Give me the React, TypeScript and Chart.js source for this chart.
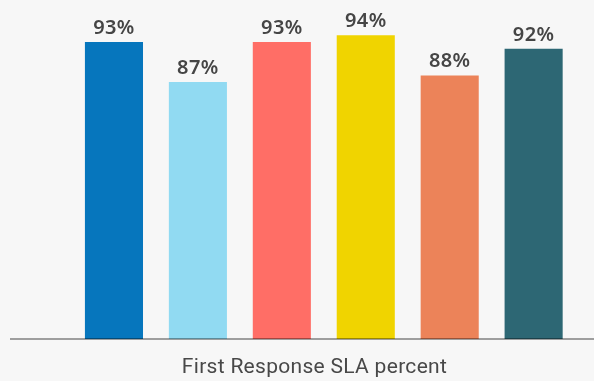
import React, { useEffect, useRef } from "react";
import { Chart, registerables } from "chart.js";

Chart.register(...registerables);

// First response SLA attainment per team (percent)
const categories = ["A", "B", "C", "D", "E", "F"];
const slaValues = [93, 87, 93, 94, 88, 92];
const barColors = ["#0676bd", "#91daf2", "#ff6e66", "#f0d400", "#ec8359", "#2d6774"];
const axisTitle = "First Response SLA percent";

const BG = "#f7f7f7";

const overlayPlugin = {
  id: "slaOverlay",
  afterDatasetsDraw(chart: any) {
    const { ctx, chartArea } = chart;
    const meta = chart.getDatasetMeta(0);
    ctx.save();
    // value labels above each bar
    ctx.fillStyle = "#454545";
    ctx.font = "600 20px 'Noto Sans'";
    ctx.letterSpacing = "0.4px";
    ctx.textAlign = "center";
    ctx.textBaseline = "alphabetic";
    meta.data.forEach((bar: any, i: number) => {
      ctx.fillText(`${slaValues[i]}%`, bar.x, bar.y - 8);
    });
    // baseline running the full width
    ctx.fillStyle = "rgba(0,0,0,0.36)";
    ctx.fillRect(10, chartArea.bottom - 1, chart.width - 10, 2);
    // axis caption
    ctx.fillStyle = "#484848";
    ctx.font = "400 21px Roboto";
    ctx.letterSpacing = "0.3px";
    ctx.fillText(axisTitle, 314.5, 373);
    ctx.restore();
  },
};

export default function App() {
  const ref = useRef<HTMLCanvasElement>(null);

  useEffect(() => {
    if (!ref.current) return;
    const chart = new Chart(ref.current, {
      type: "bar",
      data: {
        labels: categories,
        datasets: [
          {
            data: slaValues,
            backgroundColor: barColors,
            borderWidth: 0,
            categoryPercentage: 1,
            barPercentage: 0.692,
          },
        ],
      },
      options: {
        responsive: false,
        animation: false,
        devicePixelRatio: 1,
        layout: { padding: { left: 72, right: 18.4, top: 2, bottom: 42 } },
        plugins: {
          legend: { display: false },
          tooltip: { enabled: false },
        },
        scales: {
          x: { display: false },
          y: { display: false, min: 48.5, max: 99 },
        },
      },
      plugins: [overlayPlugin],
    });
    return () => chart.destroy();
  }, []);

  return (
    <div
      style={{
        position: "fixed",
        left: 0,
        top: 0,
        width: 594,
        height: 381,
        background: BG,
      }}
    >
      <canvas ref={ref} width={594} height={381} style={{ display: "block" }} />
    </div>
  );
}
